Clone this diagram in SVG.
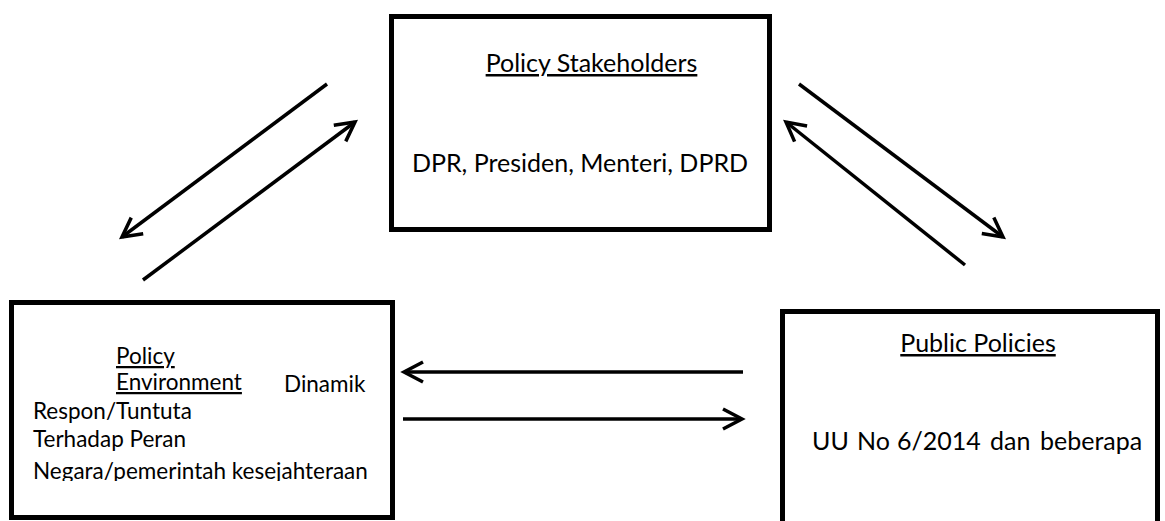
<svg xmlns="http://www.w3.org/2000/svg" width="1165" height="521" viewBox="0 0 1165 521">
<style>
.box{fill:#fff;stroke:#000;stroke-width:5}
.t{font-family:Lato,"Liberation Sans",sans-serif;font-size:25px;fill:#000}
.s{font-size:22.5px}
.u{text-decoration:underline}
.c{stroke:#000;stroke-width:3.5;fill:none}
</style>
<defs>
<marker id="ah" markerUnits="userSpaceOnUse" viewBox="-25 -15 30 30" markerWidth="30" markerHeight="30" refX="0" refY="0" orient="auto">
<path d="M-19,-10 L0,0 L-19,10" fill="none" stroke="#000" stroke-width="3.5"/>
</marker>
<clipPath id="clipL"><rect x="0" y="290" width="400" height="191"/></clipPath>
</defs>
<rect width="1165" height="521" fill="#fff"/>
<g id="stakeholders">
<rect class="box" x="391.5" y="16.5" width="378" height="213"/>
<text class="t u" x="591.5" y="72" text-anchor="middle">Policy Stakeholders</text>
<text class="t" x="580" y="172" text-anchor="middle">DPR, Presiden, Menteri, DPRD</text>
</g>
<g id="environment">
<rect class="box" x="11.5" y="302.5" width="381" height="215"/>
<g clip-path="url(#clipL)">
<text class="t s u" x="116" y="364">Policy</text>
<text class="t s u" x="116" y="390">Environment</text>
<text class="t s" x="284" y="392">Dinamik</text>
<text class="t s" x="33" y="419">Respon/Tuntuta</text>
<text class="t s" x="33" y="447">Terhadap Peran</text>
<text class="t s" x="33" y="479">Negara/pemerintah kesejahteraan</text>
</g>
</g>
<g id="policies">
<rect class="box" x="782.5" y="311.5" width="375" height="260"/>
<text class="t u" x="978" y="352" text-anchor="middle">Public Policies</text>
<text class="t" y="450" font-size="24"><tspan x="812">UU</tspan><tspan x="857">No</tspan><tspan x="897">6/2014</tspan><tspan x="990">dan</tspan><tspan x="1040">beberapa</tspan></text>
</g>
<g id="connectors" class="c">
<line x1="327" y1="84" x2="122" y2="237" marker-end="url(#ah)"/>
<line x1="143" y1="280" x2="355" y2="122" marker-end="url(#ah)"/>
<line x1="799" y1="84" x2="1003" y2="237" marker-end="url(#ah)"/>
<line x1="965" y1="265" x2="786" y2="122" marker-end="url(#ah)"/>
<line x1="743" y1="372" x2="404" y2="372" marker-end="url(#ah)"/>
<line x1="403" y1="419" x2="742" y2="419" marker-end="url(#ah)"/>
</g>
</svg>
